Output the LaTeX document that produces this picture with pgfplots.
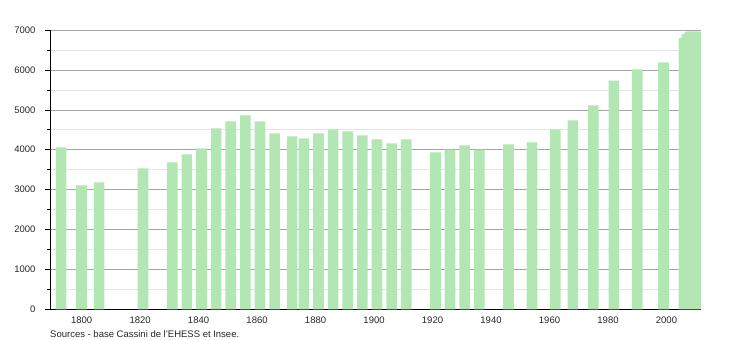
\documentclass[border=0pt]{standalone}
\usepackage{pgfplots}
\pgfplotsset{compat=1.18}
\usepackage{fontspec}
\setmainfont{Liberation Sans}
\definecolor{barg}{RGB}{178,230,178}
\definecolor{gmaj}{RGB}{165,165,165}
\definecolor{gmin}{RGB}{228,228,228}
\begin{document}
\begin{tikzpicture}
\begin{axis}[
  scale only axis,
  width=651pt, height=279.3pt,
  at={(0pt,0pt)}, anchor=south west,
  xmin=1789.2, xmax=2011.8,
  ymin=0, ymax=7000,
  axis lines=left,
  axis line style={-, black, line width=0.8pt},
  xtick={1800,1820,...,2000},
  ytick={0,1000,...,7000},
  minor y tick num=1,
  x tick style={draw=none},
  y tick style={black, line width=0.6pt},
  tick align=outside,
  major tick length=5pt,
  minor tick length=2.5pt,
  ymajorgrids, yminorgrids,
  major grid style={gmaj, line width=0.6pt},
  minor grid style={gmin, line width=0.6pt},
  tick label style={font=\fontsize{9.5}{11}\selectfont, text=black!85},
  /pgf/number format/assume math mode=true,
  /pgf/number format/set thousands separator={},
  xticklabel style={yshift=1pt},
  yticklabel style={xshift=-6pt},
  clip=true,
]
\addplot[ybar, bar width=3.65, fill=barg, draw=none] coordinates {
(1793,4060) (1800,3108) (1806,3183) (1821,3534) (1831,3684) (1836,3885)
(1841,4035) (1846,4536) (1851,4712) (1856,4862) (1861,4712) (1866,4411)
(1872,4336) (1876,4286) (1881,4411) (1886,4511) (1891,4461) (1896,4361)
(1901,4260) (1906,4160) (1911,4260) (1921,3935) (1926,4002) (1931,4110)
(1936,4002) (1946,4135) (1954,4185) (1962,4511) (1968,4737) (1975,5113)
(1982,5731) (1990,6015) (1999,6190) (2006,6800) (2007,6900) (2008,6960)
(2009,6965) (2010,6965) (2011,6965)
};
\end{axis}
\node[anchor=base west, inner sep=0pt, font=\fontsize{9.5}{11}\selectfont, text=black!85] at (0pt,-28pt) {Sources - base Cassini de l'EHESS et Insee.};
\pgfresetboundingbox
\useasboundingbox (-50pt,-30pt) rectangle (700pt,309.3pt);
\end{tikzpicture}
\end{document}
